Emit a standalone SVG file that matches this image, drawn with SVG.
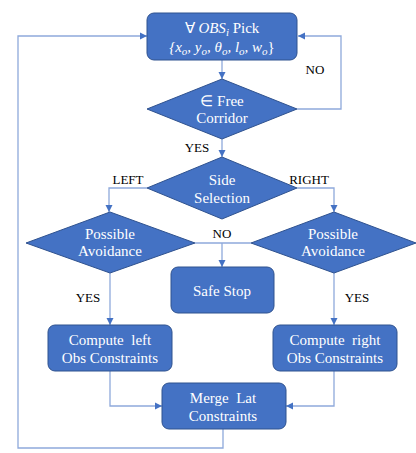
<svg xmlns="http://www.w3.org/2000/svg" width="416" height="453" viewBox="0 0 416 453">
<style>
.n{fill:#4472C4;stroke:#2F528F;stroke-width:1}
.t{fill:#ffffff;font-size:15px;text-anchor:middle;font-family:'Liberation Serif',serif}
.l{fill:#000000;font-size:13px;text-anchor:middle;font-family:'Liberation Serif',serif}
.c{fill:none;stroke:#8EA9DB;stroke-width:1.3}
.a{marker-end:url(#ah)}
</style>
<defs>
<marker id="ah" markerWidth="8" markerHeight="8" refX="7" refY="4" orient="auto" markerUnits="userSpaceOnUse">
<path d="M0,0.5 L7,4 L0,7.5 Z" fill="#4472C4"/>
</marker>
</defs>
<rect width="416" height="453" fill="#ffffff"/>
<g id="connectors">
<path class="c a" d="M222,60 V79"/>
<path class="c a" d="M297,109 H341 V36 H298"/>
<path class="c a" d="M222,139 V157"/>
<path class="c a" d="M147,188 H109 V212"/>
<path class="c a" d="M297,188 H334 V212"/>
<path class="c" d="M195,243 H251"/>
<path class="c a" d="M222,243 V267"/>
<path class="c a" d="M110,273 V325"/>
<path class="c a" d="M334,273 V325"/>
<path class="c a" d="M110,371 V406 H162"/>
<path class="c a" d="M334,371 V406 H286"/>
<path class="c a" d="M223,429 V448 H18 V36 H147"/>
<text class="l" x="315" y="74" font-family="Liberation Serif">NO</text>
<text class="l" x="197" y="152" font-family="Liberation Serif">YES</text>
<text class="l" x="128" y="184" font-family="Liberation Serif">LEFT</text>
<text class="l" x="309" y="184" font-family="Liberation Serif">RIGHT</text>
<text class="l" x="222" y="238" font-family="Liberation Serif">NO</text>
<text class="l" x="88" y="302" font-family="Liberation Serif">YES</text>
<text class="l" x="357" y="302" font-family="Liberation Serif">YES</text>
</g>
<g id="pick">
<rect class="n" x="147" y="13" width="150" height="47" rx="7"/>
<text class="t" x="222" y="33" font-family="Liberation Serif">∀ <tspan font-style="italic">OBS</tspan><tspan font-style="italic" font-size="11" dy="3">i</tspan><tspan dy="-3"> Pick</tspan></text>
<text class="t" x="222" y="52" font-family="Liberation Serif" font-style="italic">{x<tspan font-size="11" dy="3">o</tspan><tspan dy="-3">, y</tspan><tspan font-size="11" dy="3">o</tspan><tspan dy="-3">, θ</tspan><tspan font-size="11" dy="3">o</tspan><tspan dy="-3">, l</tspan><tspan font-size="11" dy="3">o</tspan><tspan dy="-3">, w</tspan><tspan font-size="11" dy="3">o</tspan><tspan dy="-3" font-style="normal">}</tspan></text>
</g>
<g id="corridor">
<polygon class="n" points="222,79 297,109 222,139 147,109"/>
<text class="t" x="222" y="106" font-family="Liberation Serif">∈ Free</text>
<text class="t" x="222" y="123" font-family="Liberation Serif">Corridor</text>
</g>
<g id="side">
<polygon class="n" points="222,157 297,188 222,219 147,188"/>
<text class="t" x="222" y="185" font-family="Liberation Serif">Side</text>
<text class="t" x="222" y="203" font-family="Liberation Serif">Selection</text>
</g>
<g id="avoidLeft">
<polygon class="n" points="110,212 195,243 110,273 26,243"/>
<text class="t" x="110" y="239" font-family="Liberation Serif">Possible</text>
<text class="t" x="110" y="256" font-family="Liberation Serif">Avoidance</text>
</g>
<g id="avoidRight">
<polygon class="n" points="334,212 416,243 334,273 251,243"/>
<text class="t" x="333" y="239" font-family="Liberation Serif">Possible</text>
<text class="t" x="333" y="256" font-family="Liberation Serif">Avoidance</text>
</g>
<g id="safeStop">
<rect class="n" x="171" y="267" width="103" height="46" rx="7"/>
<text class="t" x="222" y="296" font-family="Liberation Serif">Safe Stop</text>
</g>
<g id="computeLeft">
<rect class="n" x="48" y="325" width="124" height="46" rx="7"/>
<text class="t" x="110" y="345" font-family="Liberation Serif" xml:space="preserve">Compute  left</text>
<text class="t" x="110" y="363" font-family="Liberation Serif">Obs Constraints</text>
</g>
<g id="computeRight">
<rect class="n" x="273" y="325" width="124" height="46" rx="7"/>
<text class="t" x="335" y="345" font-family="Liberation Serif" xml:space="preserve">Compute  right</text>
<text class="t" x="335" y="363" font-family="Liberation Serif">Obs Constraints</text>
</g>
<g id="merge">
<rect class="n" x="162" y="383" width="124" height="46" rx="7"/>
<text class="t" x="223" y="403" font-family="Liberation Serif" xml:space="preserve">Merge  Lat</text>
<text class="t" x="223" y="421" font-family="Liberation Serif">Constraints</text>
</g>
</svg>
